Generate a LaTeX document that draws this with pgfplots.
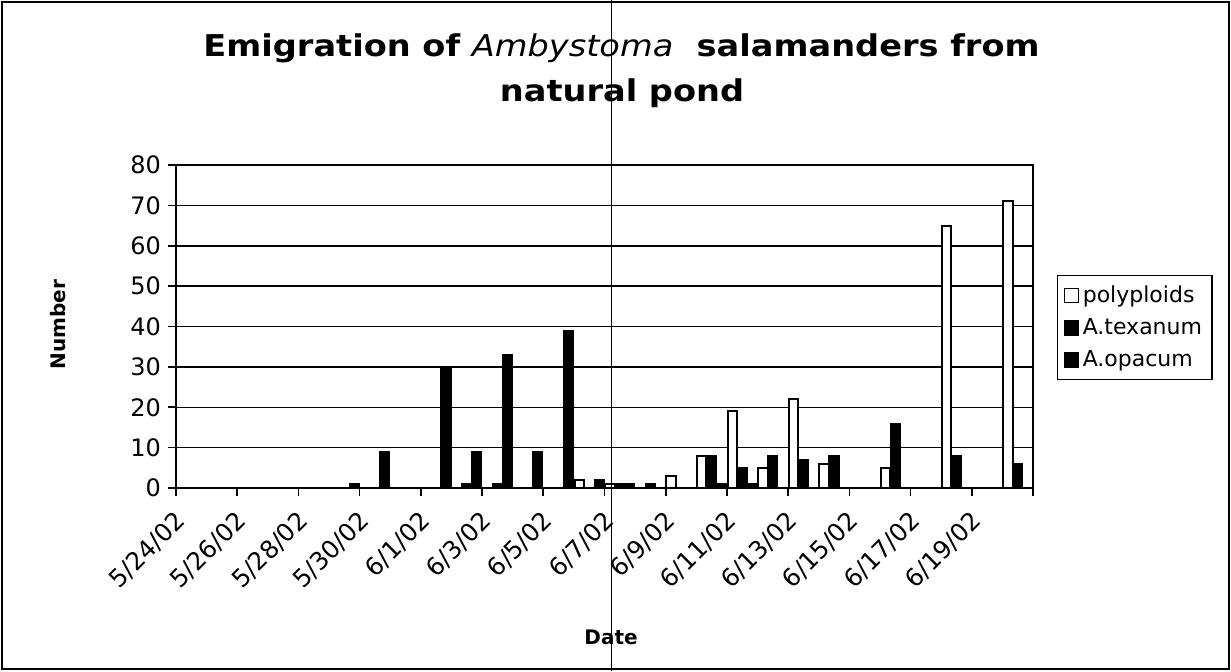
\documentclass[border=0pt]{standalone}
\usepackage{fontspec}
\setmainfont{DejaVu Sans}
\newfontfamily\titlefont[FakeStretch=1.12]{DejaVu Sans}
\usepackage{pgfplots}
\pgfplotsset{compat=1.18}
\usepackage{pgfplotstable}

\pgfplotstableread{
day poly tex opa
0 0 0 0
1 0 0 0
2 0 0 0
3 0 0 0
4 0 0 0
5 0 0 1
6 0 0 9
7 0 0 0
8 0 0 30
9 0 1 9
10 0 1 33
11 0 0 9
12 0 0 39
13 2 0 2
14 1 1 1
15 0 1 0
16 3 0 0
17 8 8 1
18 19 5 1
19 5 8 0
20 22 7 0
21 6 8 0
22 0 0 0
23 5 16 0
24 0 0 0
25 65 8 0
26 0 0 0
27 71 6 0
}\salam

\begin{document}
\begin{tikzpicture}
\path[use as bounding box] (0,0) rectangle (615.5pt,-335.5pt);
\begin{axis}[
  at={(88pt,-244pt)}, anchor=south west,
  scale only axis, width=428.5pt, height=161.5pt,
  xmin=-0.5, xmax=27.5, ymin=0, ymax=80,
  ybar,
  axis line style={line width=0.8pt},
  ytick={0,10,...,80},
  xtick={-0.5,1.5,...,27.5},
  xticklabels={5/24/02,5/26/02,5/28/02,5/30/02,6/1/02,6/3/02,6/5/02,6/7/02,6/9/02,6/11/02,6/13/02,6/15/02,6/17/02,6/19/02,{}},
  tick pos=left, tick align=outside, major tick length=4pt,
  tick style={black, line width=0.8pt},
  ymajorgrids, grid style={black, line width=0.75pt},
  /pgf/number format/assume math mode=true,
  yticklabel style={font=\fontsize{12}{14}\selectfont},
  xticklabel style={font=\fontsize{12.3}{14}\selectfont, xshift=5pt, yshift=-8pt, rotate=45, anchor=east},
  xlabel={Date}, ylabel={Number},
  label style={font=\bfseries\fontsize{10}{12}\selectfont},
  xlabel style={at={(0.5076,-0.461)}, anchor=center},
  ylabel style={at={(-0.138,0.505)}, anchor=center},
  legend style={at={(1.028,0.659)}, anchor=north west, draw=black, line width=0.6pt,
    font=\fontsize{11}{13}\selectfont, row sep=2.5pt, inner xsep=3pt, inner ysep=3pt,
    /tikz/every even column/.append style={column sep=2pt}},
  legend cell align=left,
  legend image code/.code={\draw[#1,/tikz/.cd,line width=0.6pt] (0pt,-3.5pt) rectangle (7pt,3.5pt);},
]
\addplot[fill=white, draw=black, line width=1pt, bar width=4.7pt, bar shift=-4.95pt] table[x=day,y=poly]{\salam};
\addlegendentry{polyploids\hspace{12pt}}
\addplot[fill=black, draw=black, line width=0.9pt, bar width=4.7pt, bar shift=0pt] table[x=day,y=tex]{\salam};
\addlegendentry{A.texanum}
\addplot[fill=black, draw=black, line width=0.9pt, bar width=4.7pt, bar shift=4.95pt] table[x=day,y=opa]{\salam};
\addlegendentry{A.opacum}
\end{axis}
\node[anchor=base, inner sep=0pt, font=\titlefont\bfseries\fontsize{15}{18}\selectfont] at (310.75pt,-28.35pt) {Emigration of {\mdseries\itshape Ambystoma}\ \ salamanders from};
\node[anchor=base, inner sep=0pt, font=\titlefont\bfseries\fontsize{15}{18}\selectfont] at (311pt,-50.8pt) {natural pond};
\draw[line width=0.6pt] (1pt,-1pt) rectangle (614.5pt,-334.5pt);
\draw[line width=0.5pt] (305.5pt,0pt) -- (305.5pt,-335.5pt);
\end{tikzpicture}
\end{document}
